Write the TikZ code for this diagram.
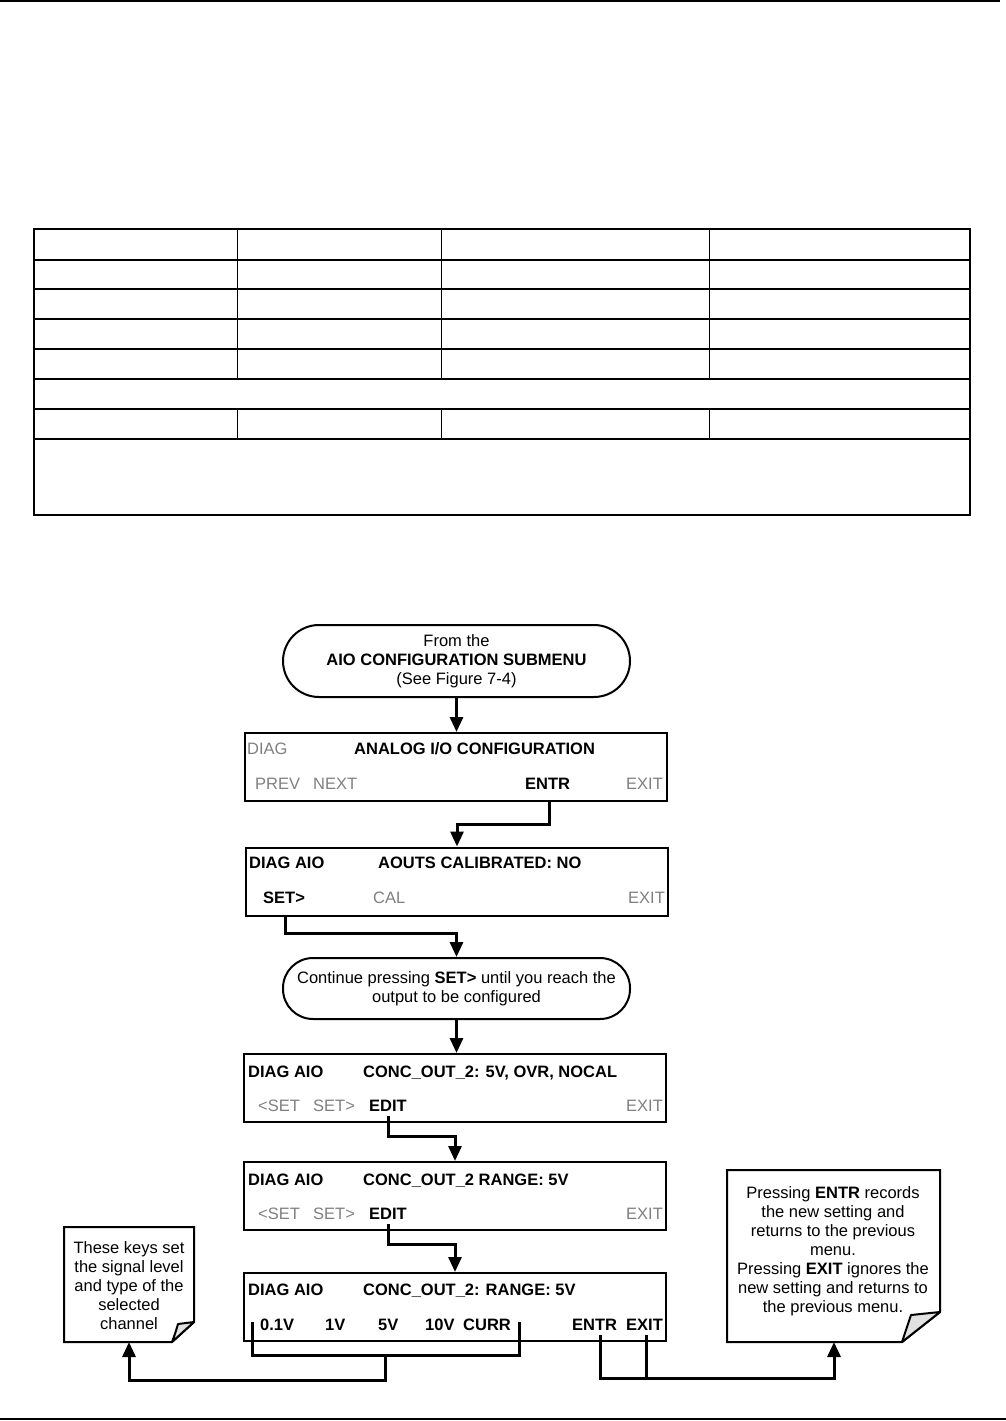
\documentclass[tikz,border=0pt]{standalone}
\usepackage{fontspec}
\setmainfont{Liberation Sans}
\usetikzlibrary{arrows.meta,calc}
\definecolor{keygray}{RGB}{128,128,128}
\definecolor{foldgray}{RGB}{225,225,225}
\begin{document}
\begin{tikzpicture}[x=1pt,y=-1pt,
  every node/.style={font=\fontsize{16.5}{19}\selectfont},
  scrbox/.style={draw,line width=2pt,inner sep=0,minimum width=422pt,minimum height=68pt},
  pill/.style={draw,line width=2pt,align=center,inner sep=0,minimum width=347pt},
  bkey/.style={inner sep=0,anchor=base west,font=\fontsize{16.5}{19}\selectfont\bfseries},
  gkey/.style={inner sep=0,anchor=base west,text=keygray},
  notetext/.style={inner sep=0,align=center},
  conn/.style={line width=3pt},
  arr/.style={line width=3pt,-{Triangle[length=15pt,width=13pt]}},
  noteline/.style={draw,line width=2pt,fill=white},
  curl/.style={draw,line width=2pt,fill=foldgray,line join=round},
  tbl/.style={line width=2pt},
  tblv/.style={line width=1pt}
]
\useasboundingbox (0,0) rectangle (1006,1421);
% page rules
\draw[line width=2pt] (0,1) -- (1000,1);
\draw[line width=2pt] (0,1419) -- (1006,1419);
% empty table
\draw[tbl] (34,229) rectangle (970,515);
\foreach \yy in {260,289,319,349,379,409,439} \draw[tbl] (34,\yy) -- (970,\yy);
\foreach \xx in {237,441,709} {\draw[tblv] (\xx,229) -- (\xx,379); \draw[tblv] (\xx,409) -- (\xx,439);}

% start pill
\node[pill,minimum height=72pt,rounded corners=36pt] (start) at (456.5,661)
  {From the\\\textbf{AIO CONFIGURATION SUBMENU}\\(See Figure 7-4)};

% box 1
\node[scrbox] (box1) at (455.5,767) {};
\node[gkey] (diag1) at (247,754) {DIAG};
\node[bkey] (title1) at (354,754) {ANALOG I/O CONFIGURATION};
\node[gkey] (prev1) at (255,789) {PREV};
\node[gkey] (next1) at (313,789) {NEXT};
\node[bkey] (entr1) at (525,789) {ENTR};
\node[gkey] (exit1) at (626,789) {EXIT};

% box 2
\node[scrbox] (box2) at (457,881.5) {};
\node[bkey] (diag2) at (249,868) {DIAG AIO};
\node[bkey] (title2) at (378,868) {AOUTS CALIBRATED: NO};
\node[bkey] (set2) at (263,903) {SET>};
\node[gkey] (cal2) at (373,903) {CAL};
\node[gkey] (exit2) at (628,903) {EXIT};

% pill 2
\node[pill,minimum height=61pt,rounded corners=30pt] (pill2) at (456.5,988.5)
  {Continue pressing \textbf{SET>} until you reach the\\output to be configured};

% box 3
\node[scrbox] (box3) at (455,1088) {};
\node[bkey] (diag3) at (248,1077) {DIAG AIO};
\node[bkey] (title3) at (363,1077) {CONC\_OUT\_2: 5V, OVR, NOCAL};
\node[gkey] (prev3) at (258,1111) {<SET};
\node[gkey] (next3) at (313,1111) {SET>};
\node[bkey] (edit3) at (369,1111) {EDIT};
\node[gkey] (exit3) at (626,1111) {EXIT};

% box 4
\node[scrbox] (box4) at (455,1196) {};
\node[bkey] (diag4) at (248,1185) {DIAG AIO};
\node[bkey] (title4) at (363,1185) {CONC\_OUT\_2 RANGE: 5V};
\node[gkey] (prev4) at (258,1219) {<SET};
\node[gkey] (next4) at (313,1219) {SET>};
\node[bkey] (edit4) at (369,1219) {EDIT};
\node[gkey] (exit4) at (626,1219) {EXIT};

% box 5
\node[scrbox] (box5) at (455,1307) {};
\node[bkey] (diag5) at (248,1295) {DIAG AIO};
\node[bkey] (title5) at (363,1295) {CONC\_OUT\_2: RANGE: 5V};
\node[bkey] (v01) at (260,1330) {0.1V};
\node[bkey] (v1) at (325,1330) {1V};
\node[bkey] (v5) at (378,1330) {5V};
\node[bkey] (v10) at (425,1330) {10V};
\node[bkey] (curr) at (463,1330) {CURR};
\node[bkey] (entr5) at (572,1330) {ENTR};
\node[bkey] (exit5) at (626,1330) {EXIT};

% note 1
\coordinate (n1nw) at (64,1227);
\coordinate (n1ne) at (194,1227);
\coordinate (n1f1) at (194,1322);
\coordinate (n1f2) at (172,1342);
\coordinate (n1fi) at (178,1324);
\coordinate (n1sw) at (64,1342);
\coordinate (n1s) at (129,1342);
\draw[noteline] (n1nw) -- (n1ne) -- (n1f1) -- (n1f2) -- (n1sw) -- cycle;
\draw[curl] (n1f1) -- (n1f2) .. controls (175,1334) .. (n1fi) -- cycle;
\node[notetext] (note1) at (129,1285.5)
  {These keys set\\the signal level\\and type of the\\selected\\channel};

% note 2
\coordinate (n2nw) at (727,1170);
\coordinate (n2ne) at (940,1170);
\coordinate (n2f1) at (940,1312);
\coordinate (n2f2) at (902,1342);
\coordinate (n2fi) at (911,1315);
\coordinate (n2sw) at (727,1342);
\coordinate (n2s) at (834,1342);
\draw[noteline] (n2nw) -- (n2ne) -- (n2f1) -- (n2f2) -- (n2sw) -- cycle;
\draw[curl] (n2f1) -- (n2f2) .. controls (906,1330) .. (n2fi) -- cycle;
\node[notetext] (note2) at (833,1251)
  {Pressing \textbf{ENTR} records\\the new setting and\\returns to the previous\\menu.\\Pressing \textbf{EXIT} ignores the\\new setting and returns to\\the previous menu.};

% connectors
\draw[arr] (start.south) -- (start.south |- box1.north);
\draw[arr] ($(entr1.south |- box1.south)+(2,0)$) -- ++(0,22) -| (box2.north);
\draw[arr] ($(set2.south |- box2.south)+(1,0)$) -- ++(0,17) -| (pill2.north);
\draw[arr] (pill2.south) -- (pill2.south |- box3.north);
\draw[arr] ($(edit3.south)+(1,5)$) -- ++(0,20) -| (box4.north);
\draw[arr] ($(edit4.south)+(1,5)$) -- ++(0,20) -| (box5.north);

% bracket for range keys
\coordinate (bl) at ($(v01.base west)+(-8,-8)$);
\coordinate (br) at ($(curr.base east)+(8,-8)$);
\coordinate (bmid) at ($(bl)!0.5!(br)+(0,33)$);
\draw[conn] (bl) -- ++(0,33) -| (br);
\draw[arr] (bmid) -- ++(0,25) -| (n1s);

% ENTR / EXIT join
\coordinate (e5) at ($(entr5.south)+(6,5)$);
\coordinate (x5) at ($(exit5.south)+(2,5)$);
\draw[conn] (e5) -- (e5 |- 0,1378) -- (x5 |- 0,1378) -- (x5);
\draw[arr] (x5 |- 0,1378) -| (n2s);
\end{tikzpicture}
\end{document}
